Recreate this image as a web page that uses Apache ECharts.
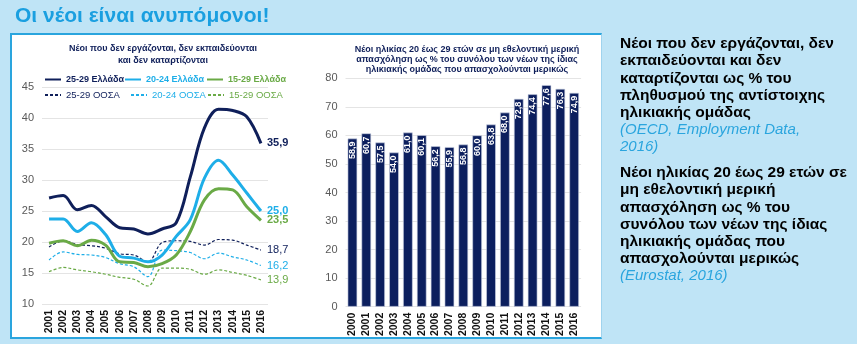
<!DOCTYPE html>
<html>
<head>
<meta charset="utf-8">
<script src="https://cdn.jsdelivr.net/npm/echarts@6/dist/echarts.min.js"></script>
<style>
  html, body { margin: 0; padding: 0; }
  body { width: 857px; height: 344px; background: #bfe4f6; position: relative; overflow: hidden; }
  #panel { position: absolute; left: 10px; top: 33px; width: 589px; height: 302px; background: #fff; border: 2px solid #2aa5de; border-right: 1px solid #9fd3ee; }
  #chart { position: absolute; left: 0; top: 0; width: 857px; height: 344px; }
</style>
</head>
<body>
<div id="panel"></div>
<div id="chart"></div>
<script>
// NEET rates (% of age group), Greece vs OECD
const neetYears = ['2001','2002','2003','2004','2005','2006','2007','2008','2009','2010','2011','2012','2013','2014','2015','2016'];
const gr2529 = [27.1, 27.5, 25.2, 25.9, 24.1, 22.3, 22.1, 21.3, 22.1, 23.1, 30.5, 38.4, 41.4, 41.2, 40.2, 35.9];
const gr2024 = [23.7, 23.7, 21.7, 23.1, 21.2, 17.7, 17.4, 16.8, 17.9, 20.9, 23.6, 30.3, 33.2, 30.8, 27.9, 25.0];
const gr1529 = [19.8, 20.2, 19.4, 20.3, 19.5, 16.8, 16.7, 16.0, 16.5, 17.9, 21.7, 26.8, 28.6, 28.4, 25.7, 23.5];
const oe2529 = [19.2, 20.2, 19.6, 19.4, 19.0, 18.1, 17.9, 16.8, 19.9, 20.2, 20.1, 19.5, 20.4, 20.3, 19.5, 18.7];
const oe2024 = [17.1, 18.4, 18.0, 17.9, 17.5, 16.5, 16.0, 14.4, 18.7, 18.6, 18.3, 17.3, 18.2, 17.6, 17.1, 16.2];
const oe1529 = [15.2, 15.9, 15.5, 15.2, 14.8, 14.3, 14.0, 12.9, 15.8, 15.8, 15.6, 14.8, 15.5, 15.1, 14.6, 13.9];
const neetTicks = [10, 15, 20, 25, 30, 35, 40, 45];

// Involuntary part-time employment, ages 20-29 (%)
const ptYears = ['2000','2001','2002','2003','2004','2005','2006','2007','2008','2009','2010','2011','2012','2013','2014','2015','2016'];
const ptValues = [58.9, 60.7, 57.5, 54.0, 61.0, 60.1, 56.2, 55.9, 56.8, 60.0, 63.8, 68.0, 72.8, 74.4, 77.6, 76.3, 74.9];
const ptTicks = [0, 10, 20, 30, 40, 50, 60, 70, 80];

const NAVY = '#0f1f5a', SKY = '#1eaee8', GREEN = '#6aaa46';
const FONT = '"Liberation Sans", Arial, sans-serif';
const fmt = v => v.toFixed(1).replace('.', ',');

const chart = echarts.init(document.getElementById('chart'), null, { renderer: 'canvas' });

function lineSeries(name, data, color, solid) {
  return {
    name, type: 'line', data, xAxisIndex: 0, yAxisIndex: 0,
    smooth: 0.35, symbol: 'none', z: solid ? 4 : 3,
    lineStyle: { color, width: solid ? 3 : 1.2, type: solid ? 'solid' : [3, 2] },
    itemStyle: { color },
    endLabel: {
      show: true, distance: 6, color,
      fontFamily: FONT, fontSize: 11, fontWeight: solid ? 'bold' : 'normal',
      formatter: p => fmt(p.value)
    }
  };
}

// one legend block per entry so each can sit at its own spot
function legendItem(name, color, bold, left, top) {
  return {
    left, top, itemWidth: 16, itemHeight: 8, padding: 0, itemStyle: { opacity: 0 },
    textStyle: { color, fontFamily: FONT, fontSize: bold ? 9 : 9.5, fontWeight: bold ? 'bold' : 'normal' },
    data: [name]
  };
}

const sideLines1 = ['Νέοι που δεν εργάζονται, δεν', 'εκπαιδεύονται και δεν', 'καταρτίζονται ως % του', 'πληθυσμού της αντίστοιχης', 'ηλικιακής ομάδας'];
const sideSrc1 = ['(OECD, Employment Data,', '2016)'];
const sideLines2 = ['Νέοι ηλικίας 20 έως 29 ετών σε', 'μη εθελοντική μερική', 'απασχόληση ως % του', 'συνόλου των νέων της ίδιας', 'ηλικιακής ομάδας που', 'απασχολούνται μερικώς'];
const sideSrc2 = ['(Eurostat, 2016)'];

const graphics = [{
  type: 'text', left: 15, top: 6,
  style: { text: 'Οι νέοι είναι ανυπόμονοι!', fill: '#1a9fe0', font: 'bold 21px ' + FONT }
}];
const LH = 17.2;
const BOLD = 'bold 15.5px ' + FONT, ITAL = 'italic 15px ' + FONT;
let y = 44;
sideLines1.forEach(t => { graphics.push({ type: 'text', style: { x: 620, y, text: t, fill: '#000', font: BOLD, verticalAlign: 'middle' } }); y += LH; });
sideSrc1.forEach(t => { graphics.push({ type: 'text', style: { x: 620, y, text: t, fill: '#2aa5de', font: ITAL, verticalAlign: 'middle' } }); y += LH; });
y = 173;
sideLines2.forEach(t => { graphics.push({ type: 'text', style: { x: 620, y, text: t, fill: '#000', font: BOLD, verticalAlign: 'middle' } }); y += LH; });
sideSrc2.forEach(t => { graphics.push({ type: 'text', style: { x: 620, y, text: t, fill: '#2aa5de', font: ITAL, verticalAlign: 'middle' } }); y += LH; });

const yLabel = { color: '#595959', fontFamily: FONT, fontSize: 11 };
const xLabel = { color: '#111', fontFamily: FONT, fontSize: 10.5, fontWeight: 'bold', rotate: 90, margin: 6, interval: 0 };
const split = { show: true, lineStyle: { color: '#e4e4e4', width: 1 } };

chart.setOption({
  animation: false,
  backgroundColor: 'transparent',
  textStyle: { fontFamily: FONT },
  graphic: graphics,
  title: [
    { text: 'Νέοι που δεν εργάζονται, δεν εκπαιδεύονται\nκαι δεν καταρτίζονται', left: 158, top: 38, textAlign: 'center',
      textStyle: { color: NAVY, fontFamily: FONT, fontSize: 9, fontWeight: 'bold', lineHeight: 11.5 } },
    { text: 'Νέοι ηλικίας 20 έως 29 ετών σε μη εθελοντική μερική\nαπασχόληση ως % του συνόλου των νέων της ίδιας\nηλικιακής ομάδας που απασχολούνται μερικώς', left: 462, top: 40, textAlign: 'center',
      textStyle: { color: NAVY, fontFamily: FONT, fontSize: 9, fontWeight: 'bold', lineHeight: 10 } }
  ],
  legend: [
    legendItem('25-29 Ελλάδα', NAVY, true, 44, 75),
    legendItem('20-24 Ελλάδα', SKY, true, 124, 75),
    legendItem('15-29 Ελλάδα', GREEN, true, 206, 75),
    legendItem('25-29 ΟΟΣΑ', NAVY, false, 44, 90),
    legendItem('20-24 ΟΟΣΑ', SKY, false, 130, 90),
    legendItem('15-29 ΟΟΣΑ', GREEN, false, 207, 90)
  ],
  grid: [
    { left: 42, top: 87, width: 226, height: 217 },
    { left: 345.5, top: 78.3, width: 235.6, height: 228.4 }
  ],
  xAxis: [
    { type: 'category', gridIndex: 0, data: neetYears, axisLine: { show: false }, axisTick: { show: false }, axisLabel: xLabel },
    { type: 'category', gridIndex: 1, data: ptYears, axisLine: { show: false }, axisTick: { show: false }, axisLabel: xLabel }
  ],
  yAxis: [
    { type: 'value', gridIndex: 0, min: neetTicks[0], max: neetTicks[neetTicks.length - 1], interval: 5,
      axisLine: { show: false }, axisTick: { show: false }, axisLabel: yLabel, splitLine: split },
    { type: 'value', gridIndex: 1, min: ptTicks[0], max: ptTicks[ptTicks.length - 1], interval: 10,
      axisLine: { show: false }, axisTick: { show: false }, axisLabel: yLabel, splitLine: split }
  ],
  series: [
    lineSeries('25-29 ΟΟΣΑ', oe2529, NAVY, false),
    lineSeries('20-24 ΟΟΣΑ', oe2024, SKY, false),
    lineSeries('15-29 ΟΟΣΑ', oe1529, GREEN, false),
    lineSeries('15-29 Ελλάδα', gr1529, GREEN, true),
    lineSeries('20-24 Ελλάδα', gr2024, SKY, true),
    lineSeries('25-29 Ελλάδα', gr2529, NAVY, true),
    {
      name: 'part-time', type: 'bar', data: ptValues, xAxisIndex: 1, yAxisIndex: 1,
      barCategoryGap: '31%',
      itemStyle: { color: '#0c1f5e', borderColor: '#cdd3e4', borderWidth: 0.6 },
      label: {
        show: true, position: 'insideTop', rotate: 90, align: 'right', verticalAlign: 'middle', distance: 3,
        color: '#fff', fontFamily: FONT, fontSize: 9, fontWeight: 'bold',
        formatter: p => fmt(p.value)
      }
    }
  ]
});
</script>
</body>
</html>
